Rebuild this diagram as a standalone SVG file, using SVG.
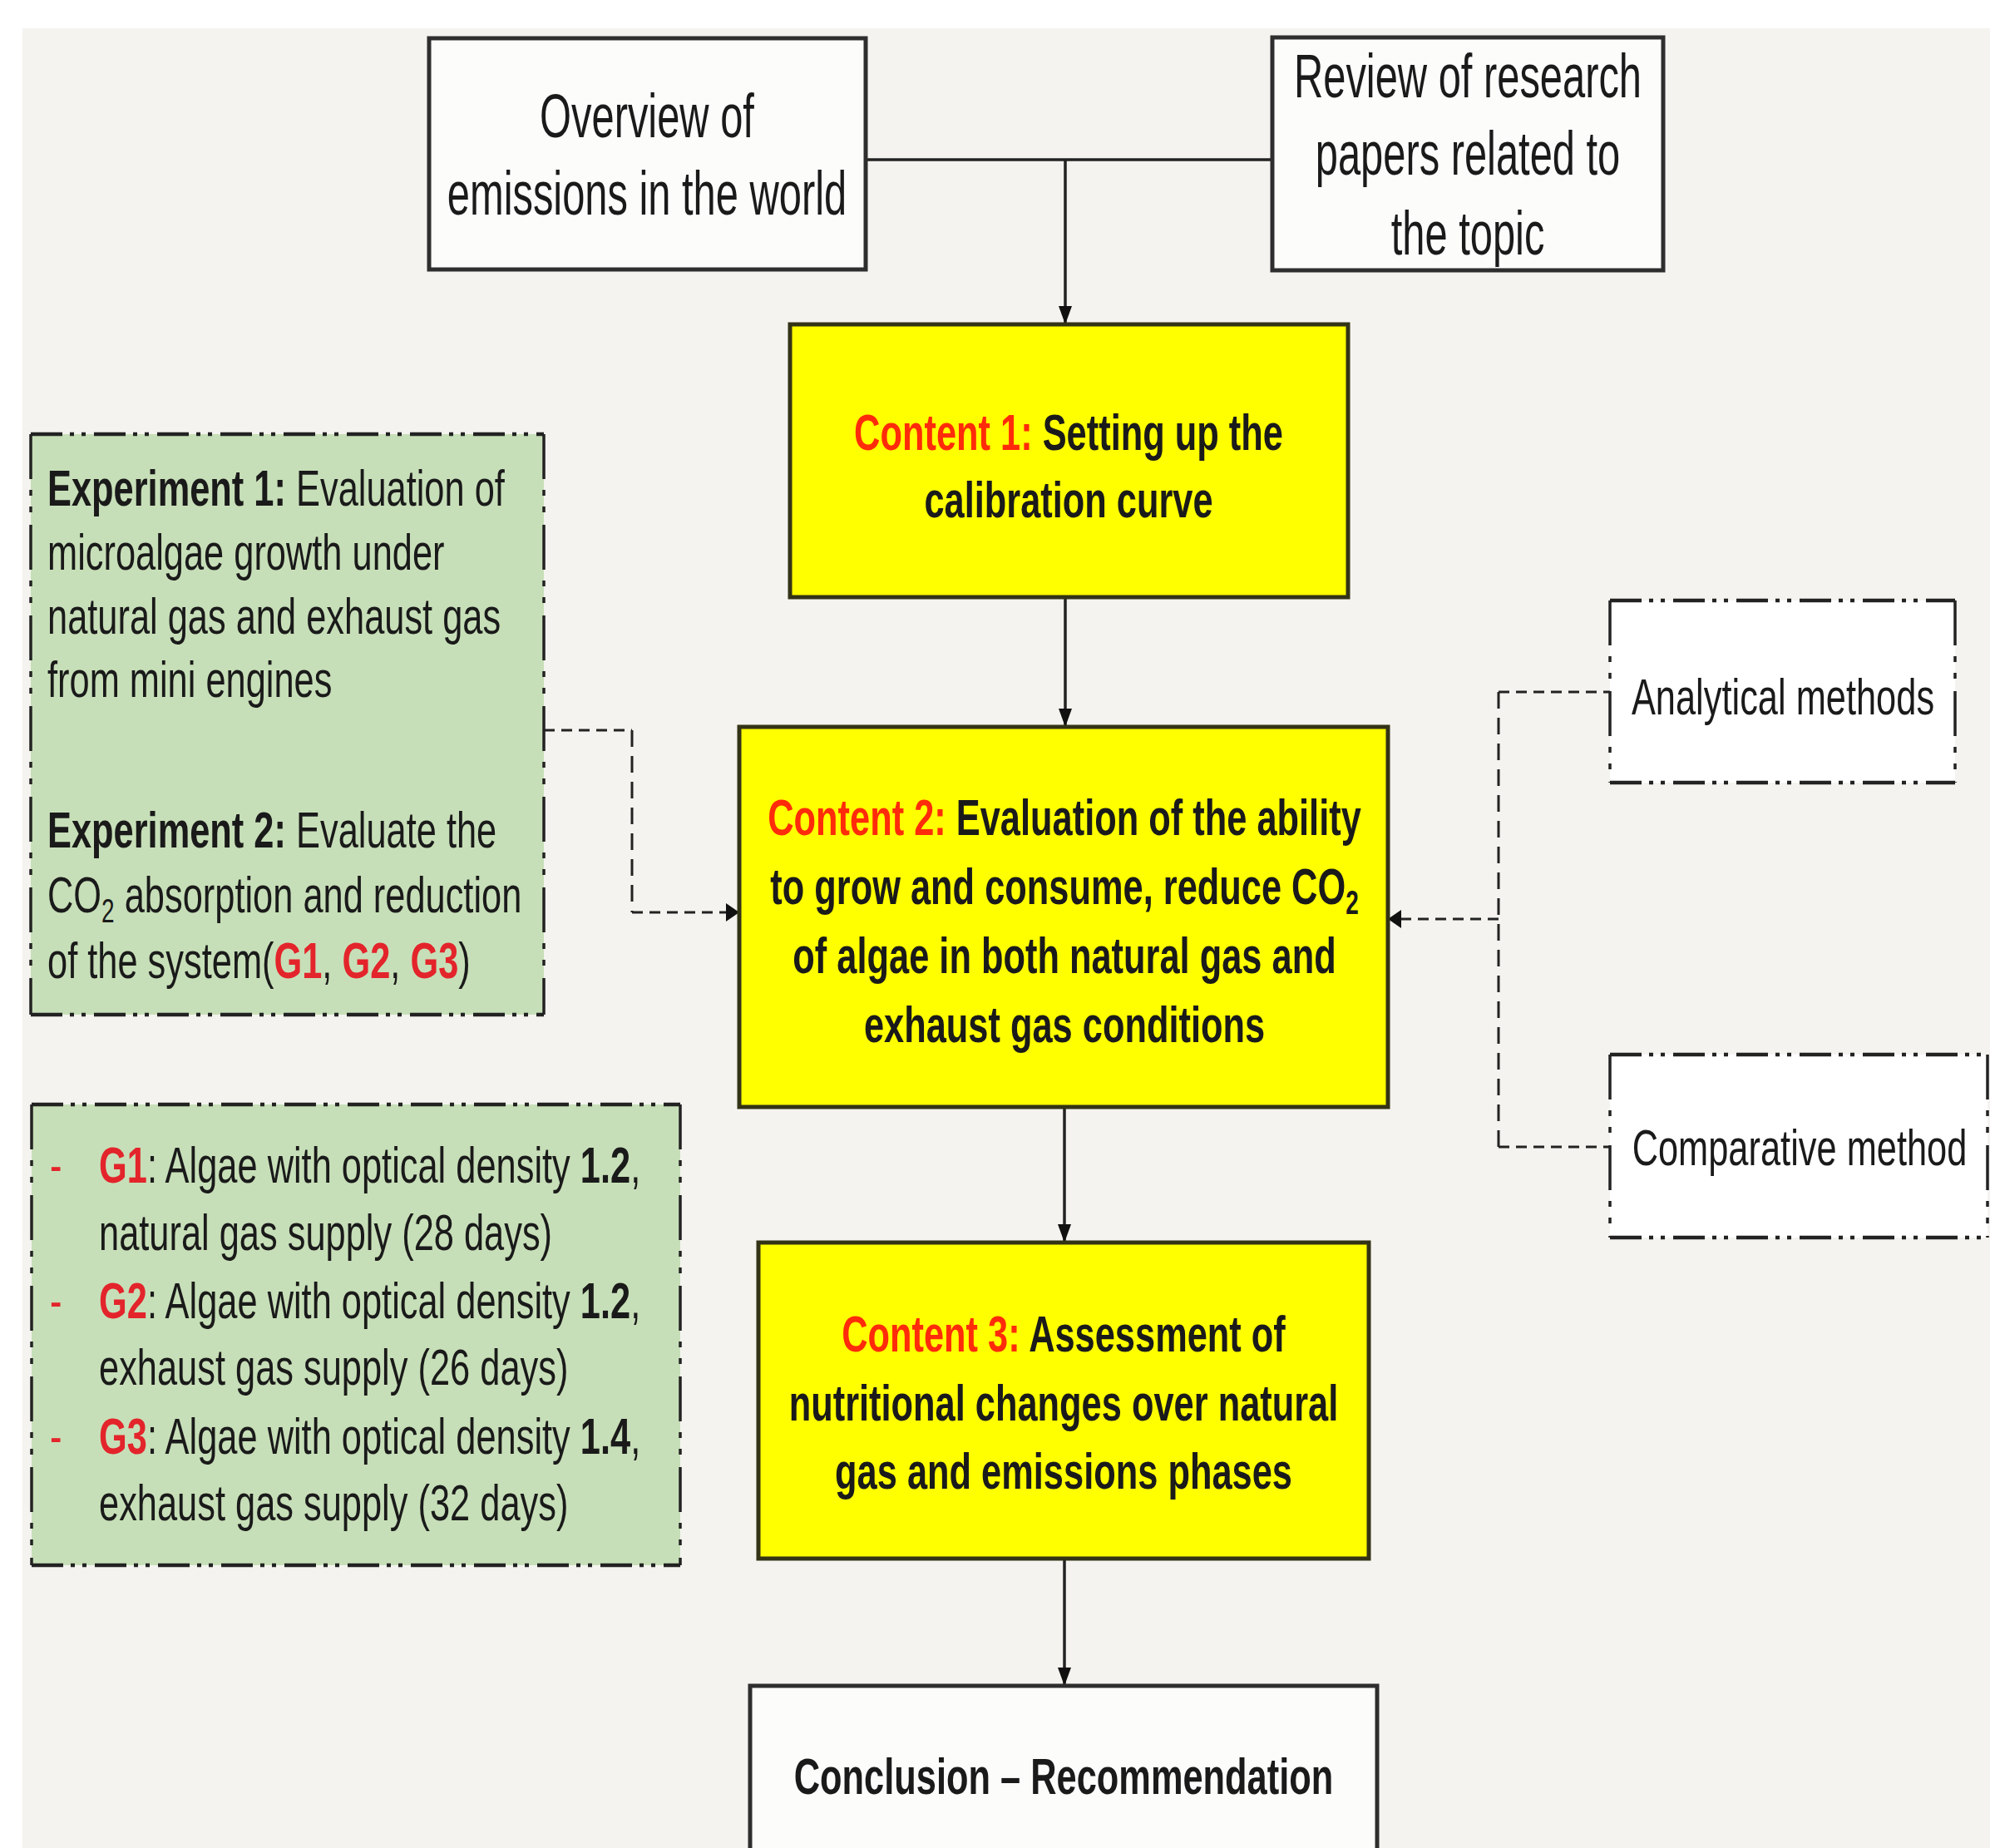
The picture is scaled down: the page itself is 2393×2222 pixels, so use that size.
<svg xmlns="http://www.w3.org/2000/svg" width="2393" height="2222" viewBox="0 0 2393 2222">
<defs>
<style>
text{font-family:"Liberation Sans",Arial,Helvetica,sans-serif;fill:#1a1a1a}
.f74{font-size:74px}
.f62{font-size:62px}
.b{font-weight:bold}
.c{text-anchor:middle}
.red{fill:#ff2b0a}
.grd{fill:#e3242b;font-weight:bold}
.box{fill:#fcfcfa;stroke:#2e2e2e;stroke-width:5}
.ybox{fill:#ffff00;stroke:#333316;stroke-width:5}
.gbox{fill:#c7dfb8;stroke:none}
.wbox{fill:#ffffff;stroke:none}
.solid{stroke:#222;stroke-width:3.5;fill:none}
.dh{stroke:#222;stroke-width:3;fill:none;stroke-dasharray:13 8}
.dv{stroke:#222;stroke-width:3;fill:none;stroke-dasharray:20 11}
.bh{stroke:#222;stroke-width:4.5;fill:none;stroke-dasharray:38 9 5 9 5 10}
.bv{stroke:#222;stroke-width:3.5;fill:none;stroke-dasharray:54 13 7 13 7 15}
</style>
<marker id="av" markerUnits="userSpaceOnUse" viewBox="0 0 22 16" refX="22" refY="8" markerWidth="22" markerHeight="16" orient="auto"><path d="M0,0 L22,8 L0,16 z" fill="#111"/></marker>
<marker id="ah" markerUnits="userSpaceOnUse" viewBox="0 0 16 22" refX="16" refY="11" markerWidth="16" markerHeight="22" orient="auto"><path d="M0,0 L16,11 L0,22 z" fill="#111"/></marker>
</defs>
<rect width="2393" height="2222" fill="#ffffff"/>
<rect x="27" y="34" width="2366" height="2188" fill="#f4f3ef"/>

<g id="connectors">
<path class="solid" d="M1041,192 H1530"/>
<path class="solid" d="M1281,192 V390" marker-end="url(#av)"/>
<path class="solid" d="M1281,718 V874" marker-end="url(#av)"/>
<path class="solid" d="M1280,1331 V1494" marker-end="url(#av)"/>
<path class="solid" d="M1280,1874 V2027" marker-end="url(#av)"/>
<line class="dh" x1="654" y1="878" x2="760" y2="878"/>
<line class="dv" x1="760" y1="878" x2="760" y2="1097"/>
<line class="dh" x1="760" y1="1097" x2="889" y2="1097" marker-end="url(#ah)"/>
<line class="dh" x1="1802" y1="832" x2="1936" y2="832"/>
<line class="dv" x1="1802" y1="832" x2="1802" y2="1379"/>
<line class="dh" x1="1802" y1="1379" x2="1936" y2="1379"/>
<line class="dh" x1="1802" y1="1105" x2="1669" y2="1105" marker-end="url(#ah)"/>
</g>

<g id="overview">
<rect class="box" x="516" y="46" width="525" height="278"/>
<text class="f74 c" transform="translate(778,165) scale(0.66,1)">Overview of</text>
<text class="f74 c" transform="translate(778,258) scale(0.66,1)">emissions in the world</text>
</g>

<g id="review">
<rect class="box" x="1530" y="45" width="470" height="280"/>
<text class="f74 c" transform="translate(1765,117) scale(0.66,1)">Review of research</text>
<text class="f74 c" transform="translate(1765,210) scale(0.66,1)">papers related to</text>
<text class="f74 c" transform="translate(1765,306) scale(0.66,1)">the topic</text>
</g>

<g id="content1">
<rect class="ybox" x="950" y="390" width="671" height="328"/>
<text class="f62 b c" transform="translate(1285,541) scale(0.7,1)"><tspan class="red">Content 1:</tspan> Setting up the</text>
<text class="f62 b c" transform="translate(1285,622) scale(0.7,1)">calibration curve</text>
</g>

<g id="content2">
<rect class="ybox" x="889" y="874" width="780" height="457"/>
<text class="f62 b c" transform="translate(1280,1004) scale(0.7,1)"><tspan class="red">Content 2:</tspan> Evaluation of the ability</text>
<text class="f62 b c" transform="translate(1280,1087) scale(0.7,1)">to grow and consume, reduce CO<tspan font-size="40" dy="12">2</tspan></text>
<text class="f62 b c" transform="translate(1280,1170) scale(0.7,1)">of algae in both natural gas and</text>
<text class="f62 b c" transform="translate(1280,1253) scale(0.7,1)">exhaust gas conditions</text>
</g>

<g id="content3">
<rect class="ybox" x="912" y="1494" width="734" height="380"/>
<text class="f62 b c" transform="translate(1279,1625) scale(0.7,1)"><tspan class="red">Content 3:</tspan> Assessment of</text>
<text class="f62 b c" transform="translate(1279,1708) scale(0.7,1)">nutritional changes over natural</text>
<text class="f62 b c" transform="translate(1279,1790) scale(0.7,1)">gas and emissions phases</text>
</g>

<g id="conclusion">
<rect class="box" x="902" y="2027" width="754" height="230"/>
<text class="f62 b c" transform="translate(1279,2157) scale(0.7,1)">Conclusion – Recommendation</text>
</g>

<g id="experiments">
<rect class="gbox" x="37" y="522" width="617" height="698"/>
<line class="bh" x1="37" y1="522" x2="654" y2="522"/>
<line class="bh" x1="37" y1="1220" x2="654" y2="1220"/>
<line class="bv" x1="37" y1="522" x2="37" y2="1220"/>
<line class="bv" x1="654" y1="522" x2="654" y2="1220"/>
<text class="f62" transform="translate(57,608) scale(0.7,1)"><tspan class="b">Experiment 1:</tspan> Evaluation of</text>
<text class="f62" transform="translate(57,685) scale(0.7,1)">microalgae growth under</text>
<text class="f62" transform="translate(57,762) scale(0.7,1)">natural gas and exhaust gas</text>
<text class="f62" transform="translate(57,838) scale(0.7,1)">from mini engines</text>
<text class="f62" transform="translate(57,1019) scale(0.7,1)"><tspan class="b">Experiment 2:</tspan> Evaluate the</text>
<text class="f62" transform="translate(57,1097) scale(0.7,1)">CO<tspan font-size="40" dy="12">2</tspan><tspan dy="-12"> absorption and reduction</tspan></text>
<text class="f62" transform="translate(57,1176) scale(0.7,1)">of the system(<tspan class="grd">G1</tspan>, <tspan class="grd">G2</tspan>, <tspan class="grd">G3</tspan>)</text>
</g>

<g id="groups">
<rect class="gbox" x="38" y="1328" width="780" height="554"/>
<line class="bh" x1="38" y1="1328" x2="818" y2="1328"/>
<line class="bh" x1="38" y1="1882" x2="818" y2="1882"/>
<line class="bv" x1="38" y1="1328" x2="38" y2="1882"/>
<line class="bv" x1="818" y1="1328" x2="818" y2="1882"/>
<text class="f62" style="fill:#e3242b" transform="translate(60,1422) scale(0.7,1)">-</text>
<text class="f62" transform="translate(119,1422) scale(0.7,1)"><tspan class="grd">G1</tspan>: Algae with optical density <tspan class="b">1.2</tspan>,</text>
<text class="f62" transform="translate(119,1503) scale(0.7,1)">natural gas supply (28 days)</text>
<text class="f62" style="fill:#e3242b" transform="translate(60,1585) scale(0.7,1)">-</text>
<text class="f62" transform="translate(119,1585) scale(0.7,1)"><tspan class="grd">G2</tspan>: Algae with optical density <tspan class="b">1.2</tspan>,</text>
<text class="f62" transform="translate(119,1665) scale(0.7,1)">exhaust gas supply (26 days)</text>
<text class="f62" style="fill:#e3242b" transform="translate(60,1748) scale(0.7,1)">-</text>
<text class="f62" transform="translate(119,1748) scale(0.7,1)"><tspan class="grd">G3</tspan>: Algae with optical density <tspan class="b">1.4</tspan>,</text>
<text class="f62" transform="translate(119,1828) scale(0.7,1)">exhaust gas supply (32 days)</text>
</g>

<g id="analytical">
<rect class="wbox" x="1936" y="722" width="415" height="219"/>
<line class="bh" x1="1936" y1="722" x2="2351" y2="722"/>
<line class="bh" x1="1936" y1="941" x2="2351" y2="941"/>
<line class="bv" x1="1936" y1="722" x2="1936" y2="941"/>
<line class="bv" x1="2351" y1="722" x2="2351" y2="941"/>
<text class="f62 c" transform="translate(2144,859) scale(0.7,1)">Analytical methods</text>
</g>

<g id="comparative">
<rect class="wbox" x="1936" y="1268" width="454" height="220"/>
<line class="bh" x1="1936" y1="1268" x2="2390" y2="1268"/>
<line class="bh" x1="1936" y1="1488" x2="2390" y2="1488"/>
<line class="bv" x1="1936" y1="1268" x2="1936" y2="1488"/>
<line class="bv" x1="2390" y1="1268" x2="2390" y2="1488"/>
<text class="f62 c" transform="translate(2164,1401) scale(0.7,1)">Comparative method</text>
</g>
</svg>
